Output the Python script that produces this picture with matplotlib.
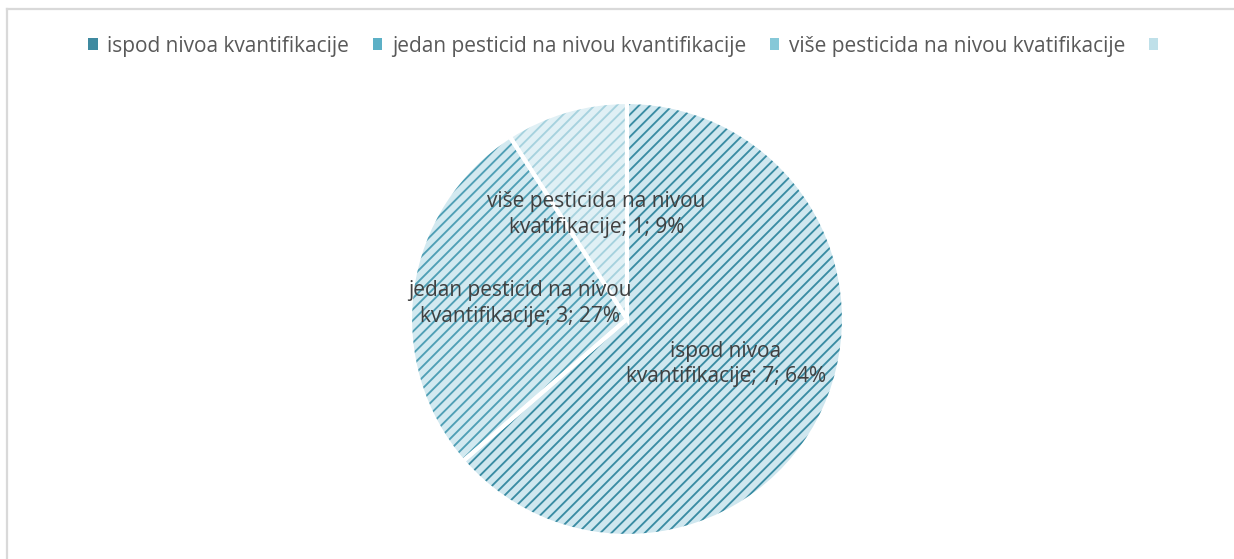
import matplotlib
matplotlib.use("Agg")
import matplotlib.pyplot as plt
import numpy as np
from matplotlib.patches import Patch, Wedge
from matplotlib.lines import Line2D

categories = ["ispod nivoa kvantifikacije", "jedan pesticid na nivou kvantifikacije",
              "više pesticida na nivou kvatifikacije", ""]
values = [7, 3, 1, 0]
percents = ["64%", "27%", "9%", ""]
label_lines = ["ispod nivoa\nkvantifikacije", "jedan pesticid na nivou\nkvantifikacije",
               "više pesticida na nivou\nkvatifikacije", ""]

face_colors = ["#cfe7ef", "#d2e9f0", "#e0f0f5", "#e6f2f6"]
hatch_colors = ["#3a8ca3", "#4f9fb5", "#a6d2de", "#b8dce6"]
legend_colors = ["#3f8aa0", "#5cb0c6", "#86c8d8", "#bfe0e9"]

plt.rcParams['font.family'] = ['Open Sans', 'DejaVu Sans']
plt.rcParams['hatch.linewidth'] = 1.35

W, H = 1234, 559
fig = plt.figure(figsize=(W / 100, H / 100), dpi=100)
fig.patch.set_facecolor("white")

# chart border: only top and left edges are visible
fig.add_artist(Line2D([7 / W, 1.0], [1 - 9 / H, 1 - 9 / H], transform=fig.transFigure,
                      color="#d9d9d9", linewidth=1.6))
fig.add_artist(Line2D([7 / W, 7 / W], [0.0, 1 - 9 / H], transform=fig.transFigure,
                      color="#d9d9d9", linewidth=1.6))

# pie axis: center (627, 319), radius ~217 px
r_px = 217
cx, cy = 627, 319
ax = fig.add_axes([(cx - r_px) / W, (H - cy - r_px) / H, 2 * r_px / W, 2 * r_px / H])
ax.set_aspect('equal')

pv = [v for v in values if v > 0]
wedges, _ = ax.pie(pv, startangle=90, counterclock=False, radius=1.0,
                   wedgeprops=dict(linewidth=0))
for i, w in enumerate(wedges):
    w.set_facecolor(face_colors[i])
    w.set_edgecolor(hatch_colors[i])
    w.set_linewidth(0)
    w.set_hatch("///")
    # white separating outline
    ax.add_patch(Wedge(w.center, w.r, w.theta1, w.theta2, fill=False,
                       edgecolor="white", linewidth=3, joinstyle="miter"))
    mid = np.deg2rad((w.theta1 + w.theta2) / 2)
    txt = label_lines[i] + "; " + str(values[i]) + "; " + percents[i]
    ax.text(0.5 * np.cos(mid), 0.5 * np.sin(mid), txt, ha="center", va="center",
            fontsize=15, color="#404040", linespacing=1.3)
ax.set_xlim(-1.0, 1.0)
ax.set_ylim(-1.0, 1.0)
ax.axis("off")

handles = [Patch(facecolor=legend_colors[i], edgecolor="none") for i in range(len(categories))]
leg = fig.legend(handles, categories, loc="center", bbox_to_anchor=(628 / W, 1 - 46 / H),
                 ncol=4, frameon=False, fontsize=15, handlelength=0.45, handleheight=0.45,
                 handletextpad=0.45, columnspacing=1.15, labelcolor="#595959")

fig.savefig("out.png", dpi=100, facecolor="white")
